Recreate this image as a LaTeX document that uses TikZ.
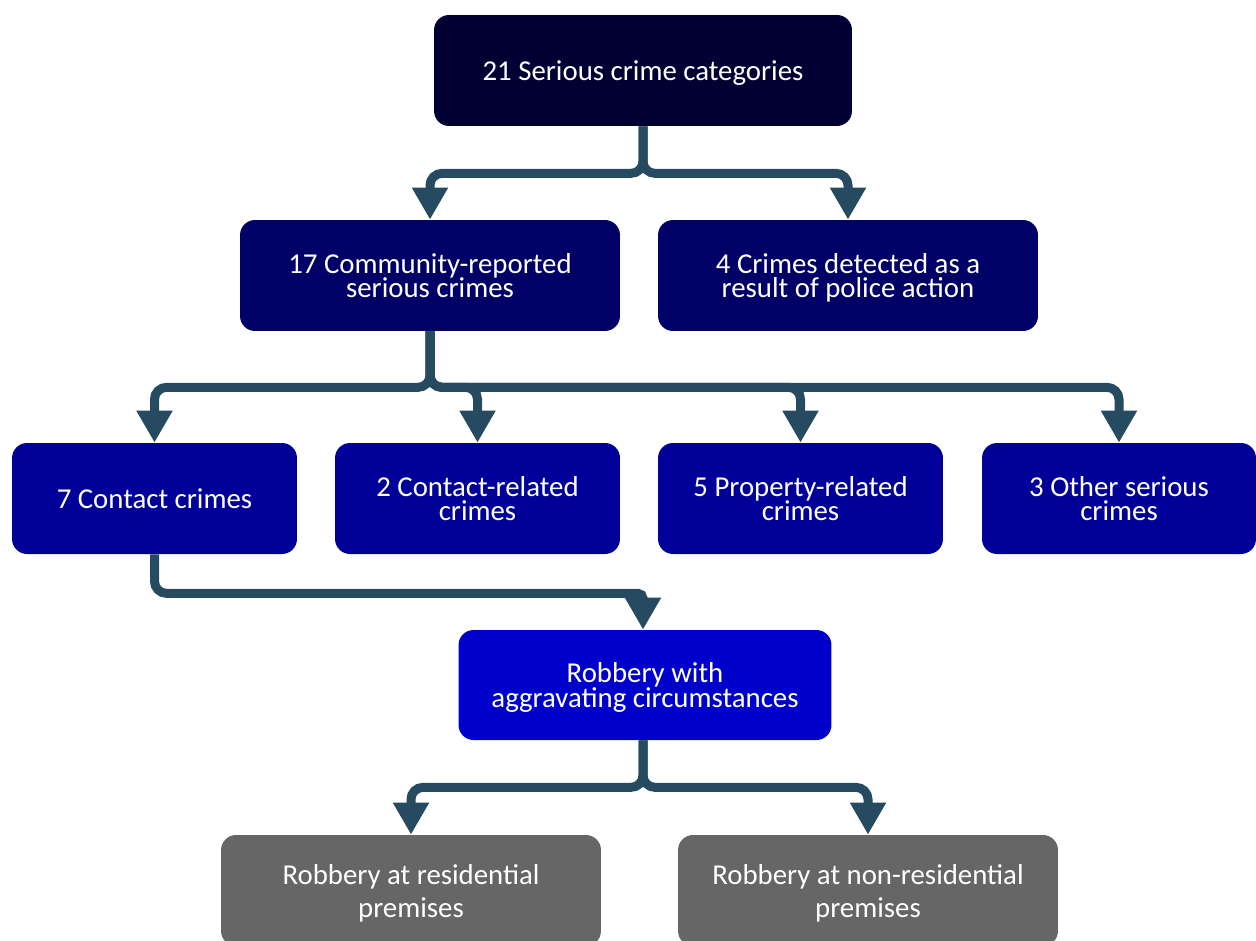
\documentclass[tikz,border=0pt]{standalone}
\usepackage{fontspec}
\setmainfont{Carlito}
\usetikzlibrary{arrows.meta}
\definecolor{lvlA}{HTML}{000033}
\definecolor{lvlB}{HTML}{000066}
\definecolor{lvlC}{HTML}{000099}
\definecolor{lvlD}{HTML}{0000CC}
\definecolor{lvlE}{HTML}{666666}
\definecolor{linkc}{HTML}{264A60}
\begin{document}
\begin{tikzpicture}[x=0.02cm,y=-0.02cm,
  box/.style={rounded corners=0.3cm, text=white, align=center, inner sep=0pt,
    text depth=0pt, minimum height=2.22cm, font=\fontsize{16.4pt}{14.2pt}\selectfont},
  wide/.style={box, minimum width=7.6cm},
  narrow/.style={box, minimum width=5.7cm},
  link/.style={draw=linkc, line width=0.18cm, rounded corners=0.24cm,
    -{Triangle[width=0.68cm,length=0.64cm]}}]
\useasboundingbox (0,0) rectangle (1256,940);

% tree of categories
\node[box, fill=lvlA, minimum width=8.36cm] (top) at (643,70.5) {21 Serious crime categories};
\node[wide, fill=lvlB] (comm) at (430,275.5) {17 Community-reported\\serious crimes};
\node[wide, fill=lvlB] (pol) at (848,275.5) {4 Crimes detected as a\\result of police action};
\node[narrow, fill=lvlC] (cont) at (154.5,498.5) {7 Contact crimes};
\node[narrow, fill=lvlC] (crel) at (477.5,498.5) {2 Contact-related\\crimes};
\node[narrow, fill=lvlC] (prop) at (800.5,498.5) {5 Property-related\\crimes};
\node[box, fill=lvlC, minimum width=5.48cm] (oth) at (1119,498.5) {3 Other serious\\crimes};
\node[box, fill=lvlD, minimum width=7.46cm, minimum height=2.2cm] (rob) at (645,685) {Robbery with\\aggravating circumstances};
\node[wide, fill=lvlE, font=\fontsize{16.4pt}{18.8pt}\selectfont] (res) at (411,890.5) {Robbery at residential\\premises};
\node[wide, fill=lvlE, font=\fontsize{16.4pt}{18.8pt}\selectfont] (nres) at (868,890.5) {Robbery at non-residential\\premises};

% connectors
\draw[link] (top.south) -- ++(0,47) -| (comm.north);
\draw[link] (top.south) -- ++(0,47) -| (pol.north);
\draw[link] (comm.south) -- ++(0,56) -| (cont.north);
\draw[link] (comm.south) -- ++(0,56) -| (crel.north);
\draw[link] (comm.south) -- ++(0,56) -| (prop.north);
\draw[link] (comm.south) -- ++(0,56) -| (oth.north);
\draw[link] (cont.south) -- ++(0,39) [rounded corners=0.1cm] -| ([xshift=-0.04cm]rob.north);
\draw[link] ([xshift=-0.04cm]rob.south) -- ++(0,47) -| (res.north);
\draw[link] ([xshift=-0.04cm]rob.south) -- ++(0,47) -| (nres.north);
\end{tikzpicture}
\end{document}
